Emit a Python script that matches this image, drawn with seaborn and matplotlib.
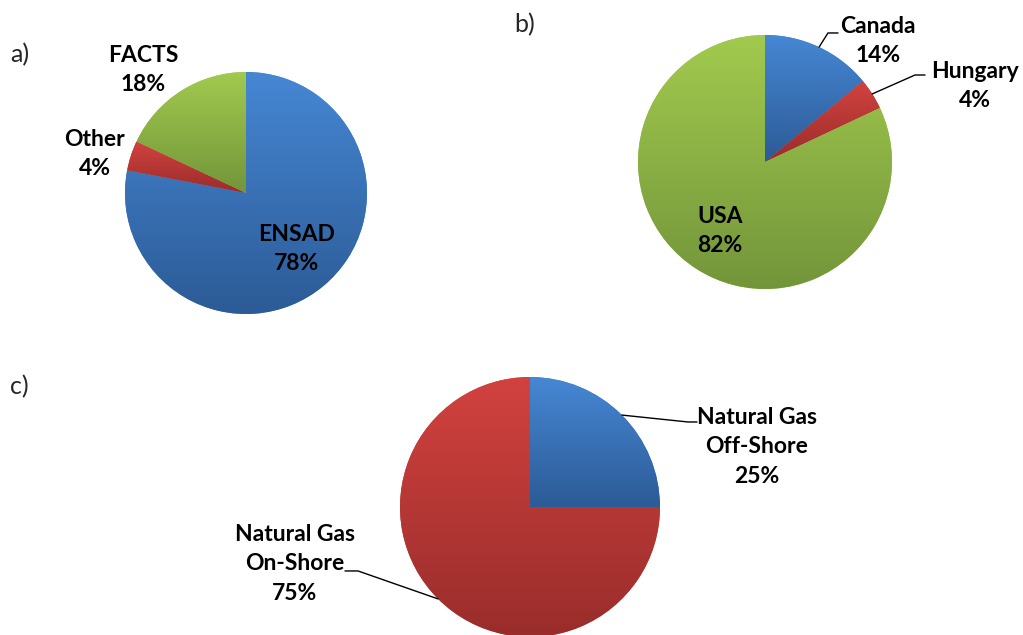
import numpy as np
import matplotlib.pyplot as plt
import seaborn as sns
from matplotlib.colors import LinearSegmentedColormap

sns.set_theme(style="white")
plt.rcParams['font.family'] = ['Lato', 'DejaVu Sans']

# a) share by organisation
org_labels = ['ENSAD', 'Other', 'FACTS']
org_values = [78, 4, 18]

# b) share by country
country_labels = ['Canada', 'Hungary', 'USA']
country_values = [14, 4, 82]

# c) natural gas location
gas_labels = ['Natural Gas\nOff-Shore', 'Natural Gas\nOn-Shore']
gas_values = [25, 75]

# (light top, dark bottom) gradient pairs, excel style
BLUE = ('#4687d4', '#2c5b96')
RED = ('#d2423f', '#992d2b')
GREEN = ('#a2ca4e', '#73953a')

W, H = 1023, 635
fig = plt.figure(figsize=(W / 100, H / 100), dpi=100)


def pie_axes(cx, cy, r):
    # axes box in pixel terms, one data unit = one radius
    return fig.add_axes([(cx - r) / W, 1 - (cy + r) / H, 2 * r / W, 2 * r / H])


def draw_pie(ax, values, colors):
    wedges, _ = ax.pie(values, colors=[c[0] for c in colors], startangle=90,
                       counterclock=False, radius=1,
                       wedgeprops=dict(linewidth=0))
    grad = np.linspace(0, 1, 256).reshape(-1, 1)
    for w, (light, dark) in zip(wedges, colors):
        bb = w.get_path().get_extents()
        cmap = LinearSegmentedColormap.from_list('g', [light, dark])
        im = ax.imshow(grad, cmap=cmap, extent=[bb.x0, bb.x1, bb.y0, bb.y1],
                       aspect='auto', origin='upper', zorder=w.get_zorder() + 0.1)
        im.set_clip_path(w)
    ax.set_xlim(-1, 1)
    ax.set_ylim(-1, 1)
    ax.axis('off')
    return wedges


def label(ax, text, value, pos):
    ax.text(pos[0], pos[1], f'{text}\n{value}%', ha='center', va='center',
            fontsize=16.5, fontweight='bold', color='black', linespacing=1.5)


def leader(ax, wedge, elbow, end):
    mid = np.deg2rad((wedge.theta1 + wedge.theta2) / 2)
    ax.plot([np.cos(mid), elbow[0], end[0]], [np.sin(mid), elbow[1], end[1]],
            color='black', lw=1, clip_on=False, zorder=5)


# ---- a)
ax_a = pie_axes(246, 193, 121)
w_a = draw_pie(ax_a, org_values, [BLUE, RED, GREEN])
a_pos = [(0.421, -0.463), (-1.248, 0.322), (-0.851, 1.017)]
for t, v, p in zip(org_labels, org_values, a_pos):
    label(ax_a, t, v, p)

# ---- b)
ax_b = pie_axes(765, 162, 127)
w_b = draw_pie(ax_b, country_values, [BLUE, RED, GREEN])
b_pos = [(0.890, 0.953), (1.654, 0.598), (-0.354, -0.543)]
for t, v, p in zip(country_labels, country_values, b_pos):
    label(ax_b, t, v, p)
leader(ax_b, w_b[0], (0.496, 1.016), (0.575, 1.016))
leader(ax_b, w_b[1], (1.181, 0.685), (1.260, 0.685))

# ---- c)
ax_c = pie_axes(530, 507, 130)
w_c = draw_pie(ax_c, gas_values, [BLUE, RED])
c_pos = [(1.746, 0.462), (-1.81, -0.438)]
for t, v, p in zip(gas_labels, gas_values, c_pos):
    label(ax_c, t, v, p)
leader(ax_c, w_c[0], (1.215, 0.654), (1.285, 0.654))
leader(ax_c, w_c[1], (-1.323, -0.492), (-1.423, -0.492))

# panel letters
for letter, (x, y) in zip(['a)', 'b)', 'c)'], [(10, 55), (514, 25), (10, 387)]):
    fig.text(x / W, 1 - y / H, letter, fontsize=18, va='center', ha='left')

fig.savefig('out.png', dpi=100)
